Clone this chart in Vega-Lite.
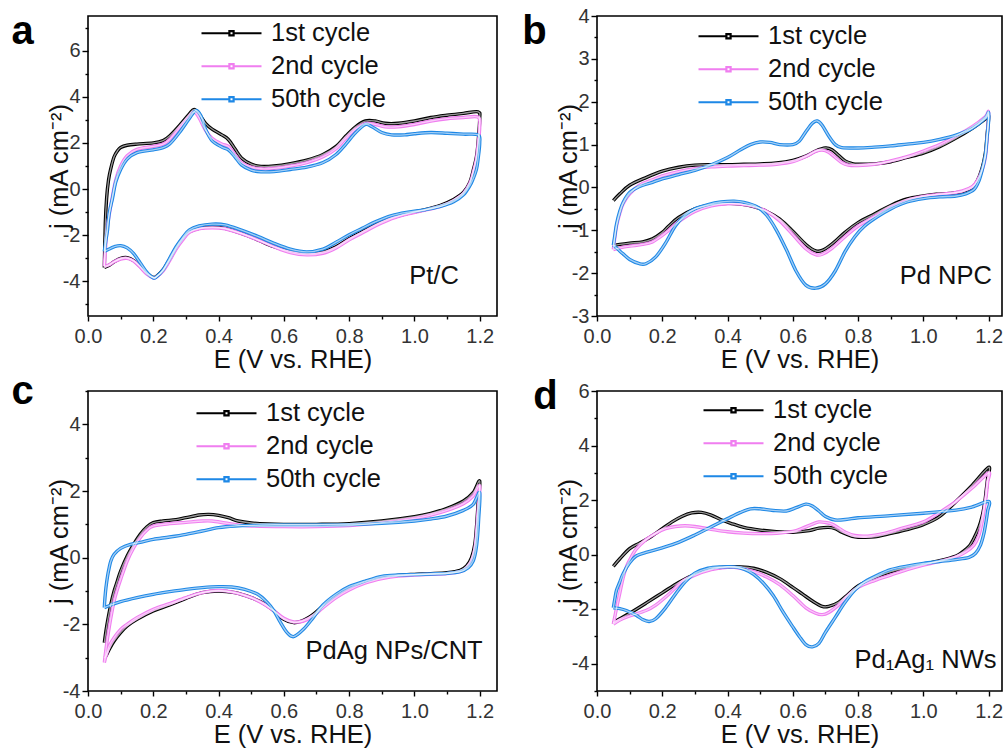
{
"$schema":"https://vega.github.io/schema/vega-lite/v6.json",
"padding":{"left":10,"top":5,"right":2,"bottom":2},
"config":{"font":"Liberation Sans","view":{"stroke":"black","strokeWidth":1.6},
 "axis":{"domain":false,"grid":false,"labelFlush":false,"tickColor":"black","tickWidth":1.4,"labelFont":"Liberation Sans","labelFontSize":20,"labelColor":"#333","titleFont":"Liberation Sans","titleFontSize":25.5,"titleFontWeight":"normal","titleColor":"#111"},
 "legend":{"labelFont":"Liberation Sans","labelFontSize":25.5,"labelColor":"#111","orient":"none","title":null,"symbolType":"M-1,0H-0.07M0.07,0H1M-0.07,-0.07H0.07V0.07H-0.07Z","symbolSize":3600,"symbolStrokeWidth":2.2,"symbolFillColor":"white","rowPadding":0,"clipHeight":32.5,"labelOffset":8}},
"datasets":{
"a":[
{"c":"1st cycle","E":0.05,"j":-3.4},{"c":"1st cycle","E":0.053,"j":-1.5},{"c":"1st cycle","E":0.057,"j":-0.4},{"c":"1st cycle","E":0.063,"j":0.4},{"c":"1st cycle","E":0.07,"j":0.9},{"c":"1st cycle","E":0.08,"j":1.4},{"c":"1st cycle","E":0.09,"j":1.65},{"c":"1st cycle","E":0.1,"j":1.8},{"c":"1st cycle","E":0.12,"j":1.9},{"c":"1st cycle","E":0.15,"j":1.95},{"c":"1st cycle","E":0.2,"j":2.0},{"c":"1st cycle","E":0.23,"j":2.1},{"c":"1st cycle","E":0.25,"j":2.3},{"c":"1st cycle","E":0.28,"j":2.75},{"c":"1st cycle","E":0.31,"j":3.25},{"c":"1st cycle","E":0.325,"j":3.45},{"c":"1st cycle","E":0.34,"j":3.25},{"c":"1st cycle","E":0.36,"j":2.85},{"c":"1st cycle","E":0.38,"j":2.6},{"c":"1st cycle","E":0.41,"j":2.35},{"c":"1st cycle","E":0.43,"j":2.15},{"c":"1st cycle","E":0.45,"j":1.75},{"c":"1st cycle","E":0.47,"j":1.35},{"c":"1st cycle","E":0.5,"j":1.08},{"c":"1st cycle","E":0.53,"j":0.98},{"c":"1st cycle","E":0.57,"j":1.0},{"c":"1st cycle","E":0.62,"j":1.1},{"c":"1st cycle","E":0.67,"j":1.25},{"c":"1st cycle","E":0.72,"j":1.5},{"c":"1st cycle","E":0.76,"j":1.85},{"c":"1st cycle","E":0.79,"j":2.3},{"c":"1st cycle","E":0.82,"j":2.7},{"c":"1st cycle","E":0.85,"j":2.95},{"c":"1st cycle","E":0.88,"j":2.95},{"c":"1st cycle","E":0.91,"j":2.85},{"c":"1st cycle","E":0.95,"j":2.85},{"c":"1st cycle","E":1.0,"j":2.95},{"c":"1st cycle","E":1.05,"j":3.1},{"c":"1st cycle","E":1.1,"j":3.2},{"c":"1st cycle","E":1.15,"j":3.28},{"c":"1st cycle","E":1.195,"j":3.35},{"c":"1st cycle","E":1.2,"j":3.05},
{"c":"1st cycle","E":1.195,"j":2.0},{"c":"1st cycle","E":1.19,"j":1.4},{"c":"1st cycle","E":1.18,"j":0.8},{"c":"1st cycle","E":1.17,"j":0.3},{"c":"1st cycle","E":1.15,"j":-0.15},{"c":"1st cycle","E":1.12,"j":-0.45},{"c":"1st cycle","E":1.08,"j":-0.7},{"c":"1st cycle","E":1.03,"j":-0.9},{"c":"1st cycle","E":0.98,"j":-1.05},{"c":"1st cycle","E":0.93,"j":-1.25},{"c":"1st cycle","E":0.88,"j":-1.55},{"c":"1st cycle","E":0.84,"j":-1.85},{"c":"1st cycle","E":0.8,"j":-2.15},{"c":"1st cycle","E":0.76,"j":-2.5},{"c":"1st cycle","E":0.72,"j":-2.72},{"c":"1st cycle","E":0.67,"j":-2.8},{"c":"1st cycle","E":0.62,"j":-2.7},{"c":"1st cycle","E":0.57,"j":-2.5},{"c":"1st cycle","E":0.52,"j":-2.2},{"c":"1st cycle","E":0.47,"j":-1.92},{"c":"1st cycle","E":0.42,"j":-1.7},{"c":"1st cycle","E":0.38,"j":-1.65},{"c":"1st cycle","E":0.34,"j":-1.7},{"c":"1st cycle","E":0.31,"j":-1.85},{"c":"1st cycle","E":0.29,"j":-2.15},{"c":"1st cycle","E":0.27,"j":-2.55},{"c":"1st cycle","E":0.25,"j":-3.05},{"c":"1st cycle","E":0.23,"j":-3.5},{"c":"1st cycle","E":0.21,"j":-3.78},{"c":"1st cycle","E":0.2,"j":-3.83},{"c":"1st cycle","E":0.18,"j":-3.65},{"c":"1st cycle","E":0.16,"j":-3.35},{"c":"1st cycle","E":0.14,"j":-3.1},{"c":"1st cycle","E":0.12,"j":-2.97},{"c":"1st cycle","E":0.1,"j":-3.0},{"c":"1st cycle","E":0.08,"j":-3.15},{"c":"1st cycle","E":0.065,"j":-3.3},{"c":"1st cycle","E":0.05,"j":-3.4},
{"c":"2nd cycle","E":0.05,"j":-3.35},{"c":"2nd cycle","E":0.055,"j":-2.3},{"c":"2nd cycle","E":0.06,"j":-1.55},{"c":"2nd cycle","E":0.067,"j":-0.95},{"c":"2nd cycle","E":0.075,"j":-0.3},{"c":"2nd cycle","E":0.085,"j":0.4},{"c":"2nd cycle","E":0.1,"j":1.0},{"c":"2nd cycle","E":0.12,"j":1.45},{"c":"2nd cycle","E":0.15,"j":1.72},{"c":"2nd cycle","E":0.2,"j":1.85},{"c":"2nd cycle","E":0.23,"j":1.95},{"c":"2nd cycle","E":0.25,"j":2.15},{"c":"2nd cycle","E":0.28,"j":2.65},{"c":"2nd cycle","E":0.31,"j":3.15},{"c":"2nd cycle","E":0.325,"j":3.35},{"c":"2nd cycle","E":0.34,"j":3.1},{"c":"2nd cycle","E":0.36,"j":2.55},{"c":"2nd cycle","E":0.38,"j":2.2},{"c":"2nd cycle","E":0.41,"j":1.95},{"c":"2nd cycle","E":0.43,"j":1.85},{"c":"2nd cycle","E":0.45,"j":1.5},{"c":"2nd cycle","E":0.47,"j":1.15},{"c":"2nd cycle","E":0.5,"j":0.95},{"c":"2nd cycle","E":0.53,"j":0.88},{"c":"2nd cycle","E":0.57,"j":0.9},{"c":"2nd cycle","E":0.62,"j":1.0},{"c":"2nd cycle","E":0.67,"j":1.15},{"c":"2nd cycle","E":0.72,"j":1.4},{"c":"2nd cycle","E":0.76,"j":1.75},{"c":"2nd cycle","E":0.79,"j":2.2},{"c":"2nd cycle","E":0.82,"j":2.6},{"c":"2nd cycle","E":0.85,"j":2.85},{"c":"2nd cycle","E":0.88,"j":2.8},{"c":"2nd cycle","E":0.91,"j":2.7},{"c":"2nd cycle","E":0.95,"j":2.7},{"c":"2nd cycle","E":1.0,"j":2.8},{"c":"2nd cycle","E":1.05,"j":2.95},{"c":"2nd cycle","E":1.1,"j":3.05},{"c":"2nd cycle","E":1.15,"j":3.1},{"c":"2nd cycle","E":1.195,"j":3.12},{"c":"2nd cycle","E":1.2,"j":2.7},
{"c":"2nd cycle","E":1.195,"j":1.9},{"c":"2nd cycle","E":1.19,"j":1.3},{"c":"2nd cycle","E":1.18,"j":0.7},{"c":"2nd cycle","E":1.17,"j":0.25},{"c":"2nd cycle","E":1.15,"j":-0.2},{"c":"2nd cycle","E":1.12,"j":-0.5},{"c":"2nd cycle","E":1.08,"j":-0.75},{"c":"2nd cycle","E":1.03,"j":-0.92},{"c":"2nd cycle","E":0.98,"j":-1.07},{"c":"2nd cycle","E":0.93,"j":-1.28},{"c":"2nd cycle","E":0.88,"j":-1.6},{"c":"2nd cycle","E":0.84,"j":-1.9},{"c":"2nd cycle","E":0.8,"j":-2.2},{"c":"2nd cycle","E":0.76,"j":-2.55},{"c":"2nd cycle","E":0.72,"j":-2.78},{"c":"2nd cycle","E":0.67,"j":-2.85},{"c":"2nd cycle","E":0.62,"j":-2.75},{"c":"2nd cycle","E":0.57,"j":-2.5},{"c":"2nd cycle","E":0.52,"j":-2.2},{"c":"2nd cycle","E":0.47,"j":-1.93},{"c":"2nd cycle","E":0.42,"j":-1.72},{"c":"2nd cycle","E":0.38,"j":-1.68},{"c":"2nd cycle","E":0.34,"j":-1.72},{"c":"2nd cycle","E":0.31,"j":-1.88},{"c":"2nd cycle","E":0.29,"j":-2.2},{"c":"2nd cycle","E":0.27,"j":-2.6},{"c":"2nd cycle","E":0.25,"j":-3.1},{"c":"2nd cycle","E":0.23,"j":-3.55},{"c":"2nd cycle","E":0.21,"j":-3.8},{"c":"2nd cycle","E":0.2,"j":-3.85},{"c":"2nd cycle","E":0.18,"j":-3.68},{"c":"2nd cycle","E":0.16,"j":-3.38},{"c":"2nd cycle","E":0.14,"j":-3.12},{"c":"2nd cycle","E":0.12,"j":-3.0},{"c":"2nd cycle","E":0.1,"j":-3.03},{"c":"2nd cycle","E":0.08,"j":-3.15},{"c":"2nd cycle","E":0.065,"j":-3.28},{"c":"2nd cycle","E":0.05,"j":-3.35},
{"c":"50th cycle","E":0.05,"j":-2.7},{"c":"50th cycle","E":0.055,"j":-2.2},{"c":"50th cycle","E":0.06,"j":-1.75},{"c":"50th cycle","E":0.065,"j":-1.05},{"c":"50th cycle","E":0.075,"j":-0.4},{"c":"50th cycle","E":0.085,"j":0.3},{"c":"50th cycle","E":0.1,"j":0.85},{"c":"50th cycle","E":0.12,"j":1.3},{"c":"50th cycle","E":0.15,"j":1.58},{"c":"50th cycle","E":0.2,"j":1.7},{"c":"50th cycle","E":0.23,"j":1.8},{"c":"50th cycle","E":0.25,"j":1.95},{"c":"50th cycle","E":0.28,"j":2.45},{"c":"50th cycle","E":0.31,"j":3.05},{"c":"50th cycle","E":0.33,"j":3.4},{"c":"50th cycle","E":0.345,"j":3.2},{"c":"50th cycle","E":0.36,"j":2.6},{"c":"50th cycle","E":0.38,"j":2.1},{"c":"50th cycle","E":0.41,"j":1.82},{"c":"50th cycle","E":0.43,"j":1.7},{"c":"50th cycle","E":0.45,"j":1.4},{"c":"50th cycle","E":0.47,"j":1.05},{"c":"50th cycle","E":0.5,"j":0.82},{"c":"50th cycle","E":0.53,"j":0.75},{"c":"50th cycle","E":0.57,"j":0.76},{"c":"50th cycle","E":0.62,"j":0.85},{"c":"50th cycle","E":0.67,"j":0.95},{"c":"50th cycle","E":0.72,"j":1.15},{"c":"50th cycle","E":0.76,"j":1.5},{"c":"50th cycle","E":0.79,"j":1.95},{"c":"50th cycle","E":0.82,"j":2.45},{"c":"50th cycle","E":0.85,"j":2.8},{"c":"50th cycle","E":0.87,"j":2.7},{"c":"50th cycle","E":0.9,"j":2.45},{"c":"50th cycle","E":0.93,"j":2.35},{"c":"50th cycle","E":0.97,"j":2.35},{"c":"50th cycle","E":1.0,"j":2.4},{"c":"50th cycle","E":1.05,"j":2.45},{"c":"50th cycle","E":1.1,"j":2.42},{"c":"50th cycle","E":1.15,"j":2.38},{"c":"50th cycle","E":1.195,"j":2.35},{"c":"50th cycle","E":1.2,"j":2.0},
{"c":"50th cycle","E":1.195,"j":1.3},{"c":"50th cycle","E":1.19,"j":0.85},{"c":"50th cycle","E":1.18,"j":0.45},{"c":"50th cycle","E":1.17,"j":0.15},{"c":"50th cycle","E":1.15,"j":-0.25},{"c":"50th cycle","E":1.12,"j":-0.55},{"c":"50th cycle","E":1.08,"j":-0.75},{"c":"50th cycle","E":1.03,"j":-0.9},{"c":"50th cycle","E":0.98,"j":-1.0},{"c":"50th cycle","E":0.93,"j":-1.15},{"c":"50th cycle","E":0.88,"j":-1.42},{"c":"50th cycle","E":0.84,"j":-1.7},{"c":"50th cycle","E":0.8,"j":-1.98},{"c":"50th cycle","E":0.76,"j":-2.3},{"c":"50th cycle","E":0.72,"j":-2.6},{"c":"50th cycle","E":0.67,"j":-2.72},{"c":"50th cycle","E":0.62,"j":-2.6},{"c":"50th cycle","E":0.57,"j":-2.35},{"c":"50th cycle","E":0.52,"j":-2.05},{"c":"50th cycle","E":0.47,"j":-1.78},{"c":"50th cycle","E":0.42,"j":-1.55},{"c":"50th cycle","E":0.38,"j":-1.52},{"c":"50th cycle","E":0.34,"j":-1.6},{"c":"50th cycle","E":0.31,"j":-1.78},{"c":"50th cycle","E":0.29,"j":-2.1},{"c":"50th cycle","E":0.27,"j":-2.5},{"c":"50th cycle","E":0.25,"j":-3.0},{"c":"50th cycle","E":0.23,"j":-3.5},{"c":"50th cycle","E":0.21,"j":-3.8},{"c":"50th cycle","E":0.2,"j":-3.85},{"c":"50th cycle","E":0.18,"j":-3.6},{"c":"50th cycle","E":0.16,"j":-3.2},{"c":"50th cycle","E":0.14,"j":-2.8},{"c":"50th cycle","E":0.12,"j":-2.55},{"c":"50th cycle","E":0.1,"j":-2.45},{"c":"50th cycle","E":0.08,"j":-2.5},{"c":"50th cycle","E":0.065,"j":-2.6},{"c":"50th cycle","E":0.05,"j":-2.7}
],
"b":[
{"c":"1st cycle","E":0.05,"j":-0.31},{"c":"1st cycle","E":0.07,"j":-0.15},{"c":"1st cycle","E":0.1,"j":0.05},{"c":"1st cycle","E":0.15,"j":0.23},{"c":"1st cycle","E":0.2,"j":0.38},{"c":"1st cycle","E":0.25,"j":0.47},{"c":"1st cycle","E":0.3,"j":0.52},{"c":"1st cycle","E":0.35,"j":0.53},{"c":"1st cycle","E":0.4,"j":0.53},{"c":"1st cycle","E":0.45,"j":0.54},{"c":"1st cycle","E":0.5,"j":0.55},{"c":"1st cycle","E":0.55,"j":0.57},{"c":"1st cycle","E":0.6,"j":0.63},{"c":"1st cycle","E":0.64,"j":0.73},{"c":"1st cycle","E":0.67,"j":0.85},{"c":"1st cycle","E":0.7,"j":0.92},{"c":"1st cycle","E":0.72,"j":0.88},{"c":"1st cycle","E":0.74,"j":0.75},{"c":"1st cycle","E":0.76,"j":0.62},{"c":"1st cycle","E":0.78,"j":0.56},{"c":"1st cycle","E":0.8,"j":0.54},{"c":"1st cycle","E":0.85,"j":0.55},{"c":"1st cycle","E":0.9,"j":0.6},{"c":"1st cycle","E":0.95,"j":0.7},{"c":"1st cycle","E":1.0,"j":0.8},{"c":"1st cycle","E":1.05,"j":0.95},{"c":"1st cycle","E":1.1,"j":1.15},{"c":"1st cycle","E":1.15,"j":1.38},{"c":"1st cycle","E":1.19,"j":1.6},{"c":"1st cycle","E":1.2,"j":1.67},
{"c":"1st cycle","E":1.195,"j":1.2},{"c":"1st cycle","E":1.19,"j":0.8},{"c":"1st cycle","E":1.18,"j":0.45},{"c":"1st cycle","E":1.165,"j":0.15},{"c":"1st cycle","E":1.15,"j":0.0},{"c":"1st cycle","E":1.12,"j":-0.1},{"c":"1st cycle","E":1.08,"j":-0.14},{"c":"1st cycle","E":1.04,"j":-0.16},{"c":"1st cycle","E":1.0,"j":-0.2},{"c":"1st cycle","E":0.95,"j":-0.27},{"c":"1st cycle","E":0.9,"j":-0.42},{"c":"1st cycle","E":0.85,"j":-0.62},{"c":"1st cycle","E":0.8,"j":-0.82},{"c":"1st cycle","E":0.76,"j":-1.05},{"c":"1st cycle","E":0.72,"j":-1.32},{"c":"1st cycle","E":0.69,"j":-1.47},{"c":"1st cycle","E":0.67,"j":-1.48},{"c":"1st cycle","E":0.64,"j":-1.33},{"c":"1st cycle","E":0.6,"j":-1.02},{"c":"1st cycle","E":0.56,"j":-0.74},{"c":"1st cycle","E":0.52,"j":-0.56},{"c":"1st cycle","E":0.48,"j":-0.45},{"c":"1st cycle","E":0.44,"j":-0.39},{"c":"1st cycle","E":0.4,"j":-0.37},{"c":"1st cycle","E":0.35,"j":-0.4},{"c":"1st cycle","E":0.3,"j":-0.5},{"c":"1st cycle","E":0.25,"j":-0.7},{"c":"1st cycle","E":0.22,"j":-0.9},{"c":"1st cycle","E":0.2,"j":-1.05},{"c":"1st cycle","E":0.17,"j":-1.2},{"c":"1st cycle","E":0.14,"j":-1.27},{"c":"1st cycle","E":0.1,"j":-1.3},{"c":"1st cycle","E":0.07,"j":-1.33},{"c":"1st cycle","E":0.05,"j":-1.36},
{"c":"2nd cycle","E":0.05,"j":-1.45},{"c":"2nd cycle","E":0.055,"j":-1.15},{"c":"2nd cycle","E":0.06,"j":-0.9},{"c":"2nd cycle","E":0.07,"j":-0.6},{"c":"2nd cycle","E":0.08,"j":-0.38},{"c":"2nd cycle","E":0.1,"j":-0.15},{"c":"2nd cycle","E":0.13,"j":0.05},{"c":"2nd cycle","E":0.17,"j":0.18},{"c":"2nd cycle","E":0.2,"j":0.27},{"c":"2nd cycle","E":0.25,"j":0.37},{"c":"2nd cycle","E":0.3,"j":0.44},{"c":"2nd cycle","E":0.35,"j":0.48},{"c":"2nd cycle","E":0.4,"j":0.5},{"c":"2nd cycle","E":0.45,"j":0.51},{"c":"2nd cycle","E":0.5,"j":0.52},{"c":"2nd cycle","E":0.55,"j":0.54},{"c":"2nd cycle","E":0.6,"j":0.6},{"c":"2nd cycle","E":0.64,"j":0.72},{"c":"2nd cycle","E":0.67,"j":0.84},{"c":"2nd cycle","E":0.69,"j":0.87},{"c":"2nd cycle","E":0.71,"j":0.82},{"c":"2nd cycle","E":0.73,"j":0.7},{"c":"2nd cycle","E":0.75,"j":0.58},{"c":"2nd cycle","E":0.77,"j":0.52},{"c":"2nd cycle","E":0.8,"j":0.51},{"c":"2nd cycle","E":0.85,"j":0.54},{"c":"2nd cycle","E":0.9,"j":0.62},{"c":"2nd cycle","E":0.95,"j":0.72},{"c":"2nd cycle","E":1.0,"j":0.85},{"c":"2nd cycle","E":1.05,"j":1.0},{"c":"2nd cycle","E":1.1,"j":1.2},{"c":"2nd cycle","E":1.15,"j":1.42},{"c":"2nd cycle","E":1.19,"j":1.65},{"c":"2nd cycle","E":1.2,"j":1.75},
{"c":"2nd cycle","E":1.195,"j":1.1},{"c":"2nd cycle","E":1.19,"j":0.7},{"c":"2nd cycle","E":1.18,"j":0.4},{"c":"2nd cycle","E":1.165,"j":0.15},{"c":"2nd cycle","E":1.15,"j":0.02},{"c":"2nd cycle","E":1.12,"j":-0.08},{"c":"2nd cycle","E":1.08,"j":-0.14},{"c":"2nd cycle","E":1.04,"j":-0.17},{"c":"2nd cycle","E":1.0,"j":-0.21},{"c":"2nd cycle","E":0.95,"j":-0.3},{"c":"2nd cycle","E":0.9,"j":-0.46},{"c":"2nd cycle","E":0.85,"j":-0.68},{"c":"2nd cycle","E":0.8,"j":-0.9},{"c":"2nd cycle","E":0.76,"j":-1.15},{"c":"2nd cycle","E":0.72,"j":-1.42},{"c":"2nd cycle","E":0.69,"j":-1.56},{"c":"2nd cycle","E":0.67,"j":-1.57},{"c":"2nd cycle","E":0.64,"j":-1.43},{"c":"2nd cycle","E":0.6,"j":-1.1},{"c":"2nd cycle","E":0.56,"j":-0.78},{"c":"2nd cycle","E":0.52,"j":-0.56},{"c":"2nd cycle","E":0.48,"j":-0.44},{"c":"2nd cycle","E":0.44,"j":-0.39},{"c":"2nd cycle","E":0.4,"j":-0.38},{"c":"2nd cycle","E":0.35,"j":-0.43},{"c":"2nd cycle","E":0.3,"j":-0.56},{"c":"2nd cycle","E":0.25,"j":-0.8},{"c":"2nd cycle","E":0.22,"j":-1.0},{"c":"2nd cycle","E":0.2,"j":-1.12},{"c":"2nd cycle","E":0.17,"j":-1.27},{"c":"2nd cycle","E":0.14,"j":-1.33},{"c":"2nd cycle","E":0.1,"j":-1.37},{"c":"2nd cycle","E":0.07,"j":-1.41},{"c":"2nd cycle","E":0.05,"j":-1.45},
{"c":"50th cycle","E":0.05,"j":-1.35},{"c":"50th cycle","E":0.055,"j":-1.1},{"c":"50th cycle","E":0.06,"j":-0.85},{"c":"50th cycle","E":0.07,"j":-0.55},{"c":"50th cycle","E":0.08,"j":-0.35},{"c":"50th cycle","E":0.1,"j":-0.12},{"c":"50th cycle","E":0.13,"j":0.02},{"c":"50th cycle","E":0.17,"j":0.12},{"c":"50th cycle","E":0.2,"j":0.2},{"c":"50th cycle","E":0.25,"j":0.3},{"c":"50th cycle","E":0.3,"j":0.4},{"c":"50th cycle","E":0.35,"j":0.53},{"c":"50th cycle","E":0.4,"j":0.7},{"c":"50th cycle","E":0.44,"j":0.88},{"c":"50th cycle","E":0.47,"j":1.0},{"c":"50th cycle","E":0.5,"j":1.06},{"c":"50th cycle","E":0.53,"j":1.05},{"c":"50th cycle","E":0.56,"j":1.0},{"c":"50th cycle","E":0.6,"j":1.0},{"c":"50th cycle","E":0.62,"j":1.08},{"c":"50th cycle","E":0.64,"j":1.3},{"c":"50th cycle","E":0.66,"j":1.5},{"c":"50th cycle","E":0.675,"j":1.55},{"c":"50th cycle","E":0.69,"j":1.45},{"c":"50th cycle","E":0.71,"j":1.2},{"c":"50th cycle","E":0.73,"j":1.0},{"c":"50th cycle","E":0.75,"j":0.93},{"c":"50th cycle","E":0.8,"j":0.92},{"c":"50th cycle","E":0.85,"j":0.94},{"c":"50th cycle","E":0.9,"j":0.97},{"c":"50th cycle","E":0.95,"j":1.01},{"c":"50th cycle","E":1.0,"j":1.05},{"c":"50th cycle","E":1.05,"j":1.12},{"c":"50th cycle","E":1.1,"j":1.22},{"c":"50th cycle","E":1.15,"j":1.38},{"c":"50th cycle","E":1.19,"j":1.62},{"c":"50th cycle","E":1.2,"j":1.75},
{"c":"50th cycle","E":1.2,"j":1.55},{"c":"50th cycle","E":1.195,"j":1.15},{"c":"50th cycle","E":1.19,"j":0.75},{"c":"50th cycle","E":1.18,"j":0.4},{"c":"50th cycle","E":1.17,"j":0.15},{"c":"50th cycle","E":1.155,"j":-0.05},{"c":"50th cycle","E":1.13,"j":-0.15},{"c":"50th cycle","E":1.1,"j":-0.2},{"c":"50th cycle","E":1.05,"j":-0.22},{"c":"50th cycle","E":1.0,"j":-0.26},{"c":"50th cycle","E":0.95,"j":-0.34},{"c":"50th cycle","E":0.9,"j":-0.5},{"c":"50th cycle","E":0.86,"j":-0.68},{"c":"50th cycle","E":0.82,"j":-0.9},{"c":"50th cycle","E":0.79,"j":-1.15},{"c":"50th cycle","E":0.76,"j":-1.5},{"c":"50th cycle","E":0.73,"j":-1.95},{"c":"50th cycle","E":0.7,"j":-2.25},{"c":"50th cycle","E":0.67,"j":-2.35},{"c":"50th cycle","E":0.64,"j":-2.28},{"c":"50th cycle","E":0.61,"j":-1.95},{"c":"50th cycle","E":0.58,"j":-1.45},{"c":"50th cycle","E":0.55,"j":-1.0},{"c":"50th cycle","E":0.52,"j":-0.65},{"c":"50th cycle","E":0.49,"j":-0.45},{"c":"50th cycle","E":0.45,"j":-0.35},{"c":"50th cycle","E":0.42,"j":-0.32},{"c":"50th cycle","E":0.38,"j":-0.34},{"c":"50th cycle","E":0.34,"j":-0.4},{"c":"50th cycle","E":0.3,"j":-0.5},{"c":"50th cycle","E":0.27,"j":-0.65},{"c":"50th cycle","E":0.24,"j":-0.9},{"c":"50th cycle","E":0.21,"j":-1.3},{"c":"50th cycle","E":0.18,"j":-1.62},{"c":"50th cycle","E":0.15,"j":-1.78},{"c":"50th cycle","E":0.13,"j":-1.78},{"c":"50th cycle","E":0.1,"j":-1.68},{"c":"50th cycle","E":0.08,"j":-1.55},{"c":"50th cycle","E":0.065,"j":-1.45},{"c":"50th cycle","E":0.05,"j":-1.35}
],
"c":[
{"c":"1st cycle","E":0.05,"j":-2.55},{"c":"1st cycle","E":0.055,"j":-2.2},{"c":"1st cycle","E":0.06,"j":-1.9},{"c":"1st cycle","E":0.07,"j":-1.4},{"c":"1st cycle","E":0.08,"j":-1.0},{"c":"1st cycle","E":0.09,"j":-0.7},{"c":"1st cycle","E":0.1,"j":-0.4},{"c":"1st cycle","E":0.12,"j":0.05},{"c":"1st cycle","E":0.14,"j":0.4},{"c":"1st cycle","E":0.16,"j":0.7},{"c":"1st cycle","E":0.18,"j":0.92},{"c":"1st cycle","E":0.2,"j":1.05},{"c":"1st cycle","E":0.23,"j":1.1},{"c":"1st cycle","E":0.27,"j":1.14},{"c":"1st cycle","E":0.3,"j":1.2},{"c":"1st cycle","E":0.34,"j":1.28},{"c":"1st cycle","E":0.37,"j":1.3},{"c":"1st cycle","E":0.4,"j":1.27},{"c":"1st cycle","E":0.43,"j":1.2},{"c":"1st cycle","E":0.46,"j":1.1},{"c":"1st cycle","E":0.5,"j":1.04},{"c":"1st cycle","E":0.55,"j":1.01},{"c":"1st cycle","E":0.6,"j":1.0},{"c":"1st cycle","E":0.7,"j":1.0},{"c":"1st cycle","E":0.8,"j":1.02},{"c":"1st cycle","E":0.9,"j":1.1},{"c":"1st cycle","E":1.0,"j":1.23},{"c":"1st cycle","E":1.05,"j":1.33},{"c":"1st cycle","E":1.1,"j":1.48},{"c":"1st cycle","E":1.15,"j":1.7},{"c":"1st cycle","E":1.18,"j":1.95},{"c":"1st cycle","E":1.2,"j":2.3},
{"c":"1st cycle","E":1.195,"j":1.6},{"c":"1st cycle","E":1.19,"j":0.9},{"c":"1st cycle","E":1.185,"j":0.4},{"c":"1st cycle","E":1.175,"j":0.0},{"c":"1st cycle","E":1.16,"j":-0.25},{"c":"1st cycle","E":1.14,"j":-0.38},{"c":"1st cycle","E":1.1,"j":-0.45},{"c":"1st cycle","E":1.05,"j":-0.48},{"c":"1st cycle","E":1.0,"j":-0.5},{"c":"1st cycle","E":0.95,"j":-0.53},{"c":"1st cycle","E":0.9,"j":-0.6},{"c":"1st cycle","E":0.85,"j":-0.72},{"c":"1st cycle","E":0.8,"j":-0.92},{"c":"1st cycle","E":0.76,"j":-1.15},{"c":"1st cycle","E":0.72,"j":-1.45},{"c":"1st cycle","E":0.69,"j":-1.7},{"c":"1st cycle","E":0.66,"j":-1.88},{"c":"1st cycle","E":0.63,"j":-1.95},{"c":"1st cycle","E":0.6,"j":-1.85},{"c":"1st cycle","E":0.57,"j":-1.6},{"c":"1st cycle","E":0.54,"j":-1.38},{"c":"1st cycle","E":0.5,"j":-1.2},{"c":"1st cycle","E":0.45,"j":-1.05},{"c":"1st cycle","E":0.4,"j":-1.0},{"c":"1st cycle","E":0.35,"j":-1.05},{"c":"1st cycle","E":0.3,"j":-1.22},{"c":"1st cycle","E":0.25,"j":-1.42},{"c":"1st cycle","E":0.2,"j":-1.6},{"c":"1st cycle","E":0.15,"j":-1.85},{"c":"1st cycle","E":0.12,"j":-2.05},{"c":"1st cycle","E":0.1,"j":-2.25},{"c":"1st cycle","E":0.08,"j":-2.5},{"c":"1st cycle","E":0.065,"j":-2.75},{"c":"1st cycle","E":0.055,"j":-2.95},{"c":"1st cycle","E":0.05,"j":-3.0},
{"c":"2nd cycle","E":0.05,"j":-3.15},{"c":"2nd cycle","E":0.055,"j":-2.75},{"c":"2nd cycle","E":0.06,"j":-2.4},{"c":"2nd cycle","E":0.07,"j":-1.8},{"c":"2nd cycle","E":0.08,"j":-1.3},{"c":"2nd cycle","E":0.09,"j":-0.95},{"c":"2nd cycle","E":0.1,"j":-0.65},{"c":"2nd cycle","E":0.12,"j":-0.1},{"c":"2nd cycle","E":0.14,"j":0.3},{"c":"2nd cycle","E":0.16,"j":0.6},{"c":"2nd cycle","E":0.18,"j":0.82},{"c":"2nd cycle","E":0.2,"j":0.95},{"c":"2nd cycle","E":0.25,"j":1.02},{"c":"2nd cycle","E":0.3,"j":1.06},{"c":"2nd cycle","E":0.35,"j":1.1},{"c":"2nd cycle","E":0.38,"j":1.1},{"c":"2nd cycle","E":0.42,"j":1.04},{"c":"2nd cycle","E":0.46,"j":0.98},{"c":"2nd cycle","E":0.5,"j":0.95},{"c":"2nd cycle","E":0.6,"j":0.93},{"c":"2nd cycle","E":0.7,"j":0.93},{"c":"2nd cycle","E":0.8,"j":0.96},{"c":"2nd cycle","E":0.9,"j":1.05},{"c":"2nd cycle","E":1.0,"j":1.18},{"c":"2nd cycle","E":1.05,"j":1.28},{"c":"2nd cycle","E":1.1,"j":1.42},{"c":"2nd cycle","E":1.15,"j":1.62},{"c":"2nd cycle","E":1.18,"j":1.85},{"c":"2nd cycle","E":1.2,"j":2.15},
{"c":"2nd cycle","E":1.195,"j":1.4},{"c":"2nd cycle","E":1.19,"j":0.7},{"c":"2nd cycle","E":1.185,"j":0.25},{"c":"2nd cycle","E":1.175,"j":-0.1},{"c":"2nd cycle","E":1.16,"j":-0.3},{"c":"2nd cycle","E":1.14,"j":-0.42},{"c":"2nd cycle","E":1.1,"j":-0.48},{"c":"2nd cycle","E":1.05,"j":-0.5},{"c":"2nd cycle","E":1.0,"j":-0.52},{"c":"2nd cycle","E":0.95,"j":-0.55},{"c":"2nd cycle","E":0.9,"j":-0.63},{"c":"2nd cycle","E":0.85,"j":-0.76},{"c":"2nd cycle","E":0.8,"j":-0.97},{"c":"2nd cycle","E":0.76,"j":-1.2},{"c":"2nd cycle","E":0.72,"j":-1.5},{"c":"2nd cycle","E":0.69,"j":-1.75},{"c":"2nd cycle","E":0.66,"j":-1.9},{"c":"2nd cycle","E":0.63,"j":-1.93},{"c":"2nd cycle","E":0.6,"j":-1.82},{"c":"2nd cycle","E":0.57,"j":-1.6},{"c":"2nd cycle","E":0.54,"j":-1.4},{"c":"2nd cycle","E":0.5,"j":-1.2},{"c":"2nd cycle","E":0.45,"j":-1.05},{"c":"2nd cycle","E":0.4,"j":-0.98},{"c":"2nd cycle","E":0.35,"j":-1.05},{"c":"2nd cycle","E":0.3,"j":-1.2},{"c":"2nd cycle","E":0.25,"j":-1.38},{"c":"2nd cycle","E":0.2,"j":-1.55},{"c":"2nd cycle","E":0.15,"j":-1.8},{"c":"2nd cycle","E":0.12,"j":-2.0},{"c":"2nd cycle","E":0.1,"j":-2.15},{"c":"2nd cycle","E":0.08,"j":-2.4},{"c":"2nd cycle","E":0.065,"j":-2.65},{"c":"2nd cycle","E":0.055,"j":-2.95},{"c":"2nd cycle","E":0.05,"j":-3.15},
{"c":"50th cycle","E":0.05,"j":-1.5},{"c":"50th cycle","E":0.052,"j":-1.2},{"c":"50th cycle","E":0.055,"j":-0.9},{"c":"50th cycle","E":0.06,"j":-0.55},{"c":"50th cycle","E":0.065,"j":-0.3},{"c":"50th cycle","E":0.07,"j":-0.1},{"c":"50th cycle","E":0.08,"j":0.1},{"c":"50th cycle","E":0.1,"j":0.28},{"c":"50th cycle","E":0.13,"j":0.4},{"c":"50th cycle","E":0.17,"j":0.48},{"c":"50th cycle","E":0.2,"j":0.55},{"c":"50th cycle","E":0.25,"j":0.62},{"c":"50th cycle","E":0.3,"j":0.7},{"c":"50th cycle","E":0.35,"j":0.8},{"c":"50th cycle","E":0.4,"j":0.9},{"c":"50th cycle","E":0.45,"j":0.95},{"c":"50th cycle","E":0.5,"j":0.97},{"c":"50th cycle","E":0.6,"j":0.98},{"c":"50th cycle","E":0.7,"j":0.98},{"c":"50th cycle","E":0.8,"j":0.99},{"c":"50th cycle","E":0.9,"j":1.03},{"c":"50th cycle","E":1.0,"j":1.1},{"c":"50th cycle","E":1.05,"j":1.16},{"c":"50th cycle","E":1.1,"j":1.25},{"c":"50th cycle","E":1.15,"j":1.42},{"c":"50th cycle","E":1.18,"j":1.6},{"c":"50th cycle","E":1.2,"j":1.95},
{"c":"50th cycle","E":1.197,"j":1.2},{"c":"50th cycle","E":1.193,"j":0.6},{"c":"50th cycle","E":1.188,"j":0.2},{"c":"50th cycle","E":1.18,"j":-0.1},{"c":"50th cycle","E":1.165,"j":-0.3},{"c":"50th cycle","E":1.14,"j":-0.42},{"c":"50th cycle","E":1.1,"j":-0.47},{"c":"50th cycle","E":1.05,"j":-0.49},{"c":"50th cycle","E":1.0,"j":-0.51},{"c":"50th cycle","E":0.95,"j":-0.52},{"c":"50th cycle","E":0.9,"j":-0.56},{"c":"50th cycle","E":0.85,"j":-0.7},{"c":"50th cycle","E":0.8,"j":-0.87},{"c":"50th cycle","E":0.76,"j":-1.1},{"c":"50th cycle","E":0.72,"j":-1.42},{"c":"50th cycle","E":0.69,"j":-1.8},{"c":"50th cycle","E":0.66,"j":-2.15},{"c":"50th cycle","E":0.63,"j":-2.37},{"c":"50th cycle","E":0.61,"j":-2.25},{"c":"50th cycle","E":0.59,"j":-1.95},{"c":"50th cycle","E":0.57,"j":-1.6},{"c":"50th cycle","E":0.55,"j":-1.35},{"c":"50th cycle","E":0.52,"j":-1.1},{"c":"50th cycle","E":0.48,"j":-0.95},{"c":"50th cycle","E":0.44,"j":-0.88},{"c":"50th cycle","E":0.4,"j":-0.87},{"c":"50th cycle","E":0.35,"j":-0.9},{"c":"50th cycle","E":0.3,"j":-0.95},{"c":"50th cycle","E":0.25,"j":-1.02},{"c":"50th cycle","E":0.2,"j":-1.1},{"c":"50th cycle","E":0.15,"j":-1.2},{"c":"50th cycle","E":0.1,"j":-1.32},{"c":"50th cycle","E":0.07,"j":-1.42},{"c":"50th cycle","E":0.05,"j":-1.5}
],
"d":[
{"c":"1st cycle","E":0.05,"j":-0.43},{"c":"1st cycle","E":0.07,"j":-0.15},{"c":"1st cycle","E":0.1,"j":0.22},{"c":"1st cycle","E":0.13,"j":0.42},{"c":"1st cycle","E":0.16,"j":0.62},{"c":"1st cycle","E":0.2,"j":0.95},{"c":"1st cycle","E":0.23,"j":1.2},{"c":"1st cycle","E":0.26,"j":1.4},{"c":"1st cycle","E":0.29,"j":1.53},{"c":"1st cycle","E":0.32,"j":1.55},{"c":"1st cycle","E":0.35,"j":1.45},{"c":"1st cycle","E":0.38,"j":1.28},{"c":"1st cycle","E":0.41,"j":1.15},{"c":"1st cycle","E":0.45,"j":1.0},{"c":"1st cycle","E":0.5,"j":0.9},{"c":"1st cycle","E":0.55,"j":0.84},{"c":"1st cycle","E":0.6,"j":0.82},{"c":"1st cycle","E":0.65,"j":0.88},{"c":"1st cycle","E":0.68,"j":0.97},{"c":"1st cycle","E":0.71,"j":1.0},{"c":"1st cycle","E":0.73,"j":0.95},{"c":"1st cycle","E":0.75,"j":0.82},{"c":"1st cycle","E":0.78,"j":0.68},{"c":"1st cycle","E":0.8,"j":0.64},{"c":"1st cycle","E":0.85,"j":0.65},{"c":"1st cycle","E":0.9,"j":0.78},{"c":"1st cycle","E":0.95,"j":0.92},{"c":"1st cycle","E":1.0,"j":1.1},{"c":"1st cycle","E":1.05,"j":1.4},{"c":"1st cycle","E":1.1,"j":1.95},{"c":"1st cycle","E":1.15,"j":2.55},{"c":"1st cycle","E":1.2,"j":3.2},
{"c":"1st cycle","E":1.197,"j":2.8},{"c":"1st cycle","E":1.193,"j":2.4},{"c":"1st cycle","E":1.188,"j":1.9},{"c":"1st cycle","E":1.18,"j":1.4},{"c":"1st cycle","E":1.17,"j":1.0},{"c":"1st cycle","E":1.155,"j":0.6},{"c":"1st cycle","E":1.14,"j":0.3},{"c":"1st cycle","E":1.12,"j":0.1},{"c":"1st cycle","E":1.1,"j":-0.05},{"c":"1st cycle","E":1.05,"j":-0.22},{"c":"1st cycle","E":1.0,"j":-0.35},{"c":"1st cycle","E":0.95,"j":-0.48},{"c":"1st cycle","E":0.9,"j":-0.62},{"c":"1st cycle","E":0.85,"j":-0.85},{"c":"1st cycle","E":0.8,"j":-1.15},{"c":"1st cycle","E":0.77,"j":-1.45},{"c":"1st cycle","E":0.74,"j":-1.75},{"c":"1st cycle","E":0.71,"j":-1.9},{"c":"1st cycle","E":0.69,"j":-1.9},{"c":"1st cycle","E":0.66,"j":-1.7},{"c":"1st cycle","E":0.63,"j":-1.45},{"c":"1st cycle","E":0.6,"j":-1.2},{"c":"1st cycle","E":0.56,"j":-0.88},{"c":"1st cycle","E":0.52,"j":-0.65},{"c":"1st cycle","E":0.48,"j":-0.5},{"c":"1st cycle","E":0.44,"j":-0.45},{"c":"1st cycle","E":0.4,"j":-0.45},{"c":"1st cycle","E":0.35,"j":-0.52},{"c":"1st cycle","E":0.3,"j":-0.72},{"c":"1st cycle","E":0.25,"j":-1.02},{"c":"1st cycle","E":0.2,"j":-1.4},{"c":"1st cycle","E":0.15,"j":-1.78},{"c":"1st cycle","E":0.1,"j":-2.15},{"c":"1st cycle","E":0.07,"j":-2.35},{"c":"1st cycle","E":0.05,"j":-2.5},
{"c":"2nd cycle","E":0.05,"j":-2.55},{"c":"2nd cycle","E":0.055,"j":-2.25},{"c":"2nd cycle","E":0.06,"j":-1.95},{"c":"2nd cycle","E":0.07,"j":-1.4},{"c":"2nd cycle","E":0.08,"j":-0.85},{"c":"2nd cycle","E":0.09,"j":-0.45},{"c":"2nd cycle","E":0.1,"j":-0.2},{"c":"2nd cycle","E":0.12,"j":0.2},{"c":"2nd cycle","E":0.15,"j":0.55},{"c":"2nd cycle","E":0.18,"j":0.78},{"c":"2nd cycle","E":0.21,"j":0.95},{"c":"2nd cycle","E":0.24,"j":1.03},{"c":"2nd cycle","E":0.27,"j":1.06},{"c":"2nd cycle","E":0.3,"j":1.03},{"c":"2nd cycle","E":0.35,"j":0.93},{"c":"2nd cycle","E":0.4,"j":0.84},{"c":"2nd cycle","E":0.45,"j":0.79},{"c":"2nd cycle","E":0.5,"j":0.77},{"c":"2nd cycle","E":0.55,"j":0.78},{"c":"2nd cycle","E":0.6,"j":0.85},{"c":"2nd cycle","E":0.63,"j":0.97},{"c":"2nd cycle","E":0.66,"j":1.12},{"c":"2nd cycle","E":0.68,"j":1.2},{"c":"2nd cycle","E":0.7,"j":1.18},{"c":"2nd cycle","E":0.72,"j":1.12},{"c":"2nd cycle","E":0.74,"j":0.98},{"c":"2nd cycle","E":0.76,"j":0.83},{"c":"2nd cycle","E":0.79,"j":0.7},{"c":"2nd cycle","E":0.83,"j":0.68},{"c":"2nd cycle","E":0.88,"j":0.78},{"c":"2nd cycle","E":0.93,"j":0.95},{"c":"2nd cycle","E":1.0,"j":1.2},{"c":"2nd cycle","E":1.05,"j":1.55},{"c":"2nd cycle","E":1.1,"j":1.95},{"c":"2nd cycle","E":1.15,"j":2.45},{"c":"2nd cycle","E":1.2,"j":3.0},
{"c":"2nd cycle","E":1.197,"j":2.65},{"c":"2nd cycle","E":1.193,"j":2.2},{"c":"2nd cycle","E":1.187,"j":1.7},{"c":"2nd cycle","E":1.18,"j":1.2},{"c":"2nd cycle","E":1.17,"j":0.7},{"c":"2nd cycle","E":1.155,"j":0.35},{"c":"2nd cycle","E":1.13,"j":0.1},{"c":"2nd cycle","E":1.1,"j":-0.08},{"c":"2nd cycle","E":1.05,"j":-0.25},{"c":"2nd cycle","E":1.0,"j":-0.38},{"c":"2nd cycle","E":0.95,"j":-0.55},{"c":"2nd cycle","E":0.9,"j":-0.75},{"c":"2nd cycle","E":0.85,"j":-0.95},{"c":"2nd cycle","E":0.8,"j":-1.2},{"c":"2nd cycle","E":0.77,"j":-1.5},{"c":"2nd cycle","E":0.74,"j":-1.85},{"c":"2nd cycle","E":0.71,"j":-2.12},{"c":"2nd cycle","E":0.69,"j":-2.2},{"c":"2nd cycle","E":0.67,"j":-2.15},{"c":"2nd cycle","E":0.64,"j":-1.95},{"c":"2nd cycle","E":0.6,"j":-1.5},{"c":"2nd cycle","E":0.56,"j":-1.1},{"c":"2nd cycle","E":0.52,"j":-0.82},{"c":"2nd cycle","E":0.48,"j":-0.62},{"c":"2nd cycle","E":0.44,"j":-0.5},{"c":"2nd cycle","E":0.4,"j":-0.46},{"c":"2nd cycle","E":0.35,"j":-0.55},{"c":"2nd cycle","E":0.3,"j":-0.75},{"c":"2nd cycle","E":0.26,"j":-1.0},{"c":"2nd cycle","E":0.22,"j":-1.45},{"c":"2nd cycle","E":0.18,"j":-1.85},{"c":"2nd cycle","E":0.15,"j":-2.05},{"c":"2nd cycle","E":0.1,"j":-2.25},{"c":"2nd cycle","E":0.07,"j":-2.4},{"c":"2nd cycle","E":0.05,"j":-2.55},
{"c":"50th cycle","E":0.05,"j":-1.95},{"c":"50th cycle","E":0.055,"j":-1.6},{"c":"50th cycle","E":0.06,"j":-1.3},{"c":"50th cycle","E":0.07,"j":-1.0},{"c":"50th cycle","E":0.08,"j":-0.7},{"c":"50th cycle","E":0.1,"j":-0.3},{"c":"50th cycle","E":0.12,"j":-0.05},{"c":"50th cycle","E":0.15,"j":0.08},{"c":"50th cycle","E":0.2,"j":0.25},{"c":"50th cycle","E":0.25,"j":0.45},{"c":"50th cycle","E":0.3,"j":0.72},{"c":"50th cycle","E":0.35,"j":1.02},{"c":"50th cycle","E":0.4,"j":1.32},{"c":"50th cycle","E":0.44,"j":1.55},{"c":"50th cycle","E":0.47,"j":1.68},{"c":"50th cycle","E":0.5,"j":1.68},{"c":"50th cycle","E":0.54,"j":1.62},{"c":"50th cycle","E":0.58,"j":1.6},{"c":"50th cycle","E":0.61,"j":1.72},{"c":"50th cycle","E":0.64,"j":1.85},{"c":"50th cycle","E":0.66,"j":1.78},{"c":"50th cycle","E":0.68,"j":1.6},{"c":"50th cycle","E":0.7,"j":1.4},{"c":"50th cycle","E":0.73,"j":1.27},{"c":"50th cycle","E":0.77,"j":1.3},{"c":"50th cycle","E":0.8,"j":1.35},{"c":"50th cycle","E":0.9,"j":1.43},{"c":"50th cycle","E":1.0,"j":1.52},{"c":"50th cycle","E":1.1,"j":1.63},{"c":"50th cycle","E":1.15,"j":1.75},{"c":"50th cycle","E":1.2,"j":1.95},
{"c":"50th cycle","E":1.197,"j":1.6},{"c":"50th cycle","E":1.192,"j":1.2},{"c":"50th cycle","E":1.185,"j":0.75},{"c":"50th cycle","E":1.175,"j":0.35},{"c":"50th cycle","E":1.16,"j":0.05},{"c":"50th cycle","E":1.14,"j":-0.1},{"c":"50th cycle","E":1.1,"j":-0.18},{"c":"50th cycle","E":1.05,"j":-0.25},{"c":"50th cycle","E":1.0,"j":-0.32},{"c":"50th cycle","E":0.95,"j":-0.42},{"c":"50th cycle","E":0.9,"j":-0.55},{"c":"50th cycle","E":0.86,"j":-0.75},{"c":"50th cycle","E":0.82,"j":-1.0},{"c":"50th cycle","E":0.79,"j":-1.3},{"c":"50th cycle","E":0.76,"j":-1.75},{"c":"50th cycle","E":0.73,"j":-2.3},{"c":"50th cycle","E":0.7,"j":-2.85},{"c":"50th cycle","E":0.68,"j":-3.25},{"c":"50th cycle","E":0.66,"j":-3.38},{"c":"50th cycle","E":0.64,"j":-3.3},{"c":"50th cycle","E":0.62,"j":-3.0},{"c":"50th cycle","E":0.6,"j":-2.65},{"c":"50th cycle","E":0.57,"j":-2.1},{"c":"50th cycle","E":0.54,"j":-1.5},{"c":"50th cycle","E":0.51,"j":-1.05},{"c":"50th cycle","E":0.48,"j":-0.72},{"c":"50th cycle","E":0.45,"j":-0.53},{"c":"50th cycle","E":0.42,"j":-0.45},{"c":"50th cycle","E":0.38,"j":-0.45},{"c":"50th cycle","E":0.34,"j":-0.5},{"c":"50th cycle","E":0.3,"j":-0.68},{"c":"50th cycle","E":0.27,"j":-1.0},{"c":"50th cycle","E":0.24,"j":-1.45},{"c":"50th cycle","E":0.21,"j":-1.95},{"c":"50th cycle","E":0.18,"j":-2.35},{"c":"50th cycle","E":0.16,"j":-2.45},{"c":"50th cycle","E":0.14,"j":-2.38},{"c":"50th cycle","E":0.12,"j":-2.22},{"c":"50th cycle","E":0.09,"j":-2.05},{"c":"50th cycle","E":0.07,"j":-1.98},{"c":"50th cycle","E":0.05,"j":-1.95}
]
},
"columns":2,
"bounds":"flush",
"spacing":{"row":75,"column":100},
"resolve":{"scale":{"x":"independent","y":"independent"},"legend":{"color":"independent"}},
"concat":[
{"width":409,"height":300,"data":{"name":"a"},
 "layer":[
  {"mark":{"type":"line","interpolate":"cardinal","strokeWidth":3.4,"clip":true},
   "encoding":{"x":{"field":"E","type":"quantitative","scale":{"domain":[0,1.253],"nice":false,"zero":false},"axis":{"values":[0,0.2,0.4,0.6,0.8,1.0,1.2],"format":".1f","tickSize":5,"title":"E (V vs. RHE)","labelPadding":5,"titlePadding":1}},
    "y":{"field":"j","type":"quantitative","scale":{"domain":[-5.5,7.5],"nice":false,"zero":false},"axis":{"values":[-4,-2,0,2,4,6],"labelExpr":"replace(datum.label,'−','-')","tickSize":6,"title":"j (mA cm⁻²)","labelPadding":2,"titlePadding":-10}},
    "color":{"field":"c","type":"nominal","scale":{"domain":["1st cycle","2nd cycle","50th cycle"],"range":["#000000","#f07ef0","#1e88e6"]},"legend":{"legendX":112,"legendY":1}},
    "order":{"value":null}}},
  {"mark":{"type":"line","interpolate":"cardinal","strokeWidth":1.3,"color":"white","opacity":0.6,"clip":true},
   "encoding":{"x":{"field":"E","type":"quantitative","axis":{"orient":"bottom","values":[0.1,0.3,0.5,0.7,0.9,1.1],"labels":false,"tickSize":3,"title":null}},
    "y":{"field":"j","type":"quantitative","axis":{"orient":"left","values":[-5,-3,-1,1,3,5,7],"labels":false,"tickSize":3,"title":null}},
    "detail":{"field":"c"},"order":{"value":null}}},
  {"data":{"values":[{}]},"mark":{"type":"text","align":"right","baseline":"alphabetic","fontSize":25.5,"font":"Liberation Sans","color":"#111"},
   "encoding":{"x":{"datum":1.136,"type":"quantitative","axis":null},"y":{"datum":-4.13,"type":"quantitative","axis":null},"text":{"value":"Pt/C"}}},
  {"data":{"values":[{}]},"mark":{"type":"text","align":"left","baseline":"alphabetic","fontSize":40,"fontWeight":"bold","font":"Liberation Sans","color":"black"},
   "encoding":{"x":{"datum":-0.234,"type":"quantitative","axis":null},"y":{"datum":6.28,"type":"quantitative","axis":null},"text":{"value":"a"}}}
 ],
 "resolve":{"axis":{"x":"independent","y":"independent"}}
},
{"width":405,"height":300,"data":{"name":"b"},
 "layer":[
  {"mark":{"type":"line","interpolate":"cardinal","strokeWidth":3.4,"clip":true},
   "encoding":{"x":{"field":"E","type":"quantitative","scale":{"domain":[0,1.241],"nice":false,"zero":false},"axis":{"values":[0,0.2,0.4,0.6,0.8,1.0,1.2],"format":".1f","tickSize":5,"title":"E (V vs. RHE)","labelPadding":5,"titlePadding":1}},
    "y":{"field":"j","type":"quantitative","scale":{"domain":[-3,4],"nice":false,"zero":false},"axis":{"values":[-3,-2,-1,0,1,2,3,4],"labelExpr":"replace(datum.label,'−','-')","tickSize":6,"title":"j (mA cm⁻²)","labelPadding":2,"titlePadding":-10}},
    "color":{"field":"c","type":"nominal","scale":{"domain":["1st cycle","2nd cycle","50th cycle"],"range":["#000000","#f07ef0","#1e88e6"]},"legend":{"legendX":100,"legendY":4}},
    "order":{"value":null}}},
  {"mark":{"type":"line","interpolate":"cardinal","strokeWidth":1.3,"color":"white","opacity":0.6,"clip":true},
   "encoding":{"x":{"field":"E","type":"quantitative","axis":{"orient":"bottom","values":[0.1,0.3,0.5,0.7,0.9,1.1],"labels":false,"tickSize":3,"title":null}},
    "y":{"field":"j","type":"quantitative","axis":{"orient":"left","values":[-2.5,-1.5,-0.5,0.5,1.5,2.5,3.5],"labels":false,"tickSize":3,"title":null}},
    "detail":{"field":"c"},"order":{"value":null}}},
  {"data":{"values":[{}]},"mark":{"type":"text","align":"right","baseline":"alphabetic","fontSize":25.5,"font":"Liberation Sans","color":"#111"},
   "encoding":{"x":{"datum":1.21,"type":"quantitative","axis":null},"y":{"datum":-2.25,"type":"quantitative","axis":null},"text":{"value":"Pd NPC"}}},
  {"data":{"values":[{}]},"mark":{"type":"text","align":"left","baseline":"alphabetic","fontSize":40,"fontWeight":"bold","font":"Liberation Sans","color":"black"},
   "encoding":{"x":{"datum":-0.229,"type":"quantitative","axis":null},"y":{"datum":3.35,"type":"quantitative","axis":null},"text":{"value":"b"}}}
 ],
 "resolve":{"axis":{"x":"independent","y":"independent"}}
},
{"width":409,"height":300,"data":{"name":"c"},
 "layer":[
  {"mark":{"type":"line","interpolate":"cardinal","strokeWidth":3.4,"clip":true},
   "encoding":{"x":{"field":"E","type":"quantitative","scale":{"domain":[0,1.253],"nice":false,"zero":false},"axis":{"values":[0,0.2,0.4,0.6,0.8,1.0,1.2],"format":".1f","tickSize":5,"title":"E (V vs. RHE)","labelPadding":5,"titlePadding":1}},
    "y":{"field":"j","type":"quantitative","scale":{"domain":[-4,5],"nice":false,"zero":false},"axis":{"values":[-4,-2,0,2,4],"labelExpr":"replace(datum.label,'−','-')","tickSize":6,"title":"j (mA cm⁻²)","labelPadding":2,"titlePadding":-10}},
    "color":{"field":"c","type":"nominal","scale":{"domain":["1st cycle","2nd cycle","50th cycle"],"range":["#000000","#f07ef0","#1e88e6"]},"legend":{"legendX":107,"legendY":6}},
    "order":{"value":null}}},
  {"mark":{"type":"line","interpolate":"cardinal","strokeWidth":1.3,"color":"white","opacity":0.6,"clip":true},
   "encoding":{"x":{"field":"E","type":"quantitative","axis":{"orient":"bottom","values":[0.1,0.3,0.5,0.7,0.9,1.1],"labels":false,"tickSize":3,"title":null}},
    "y":{"field":"j","type":"quantitative","axis":{"orient":"left","values":[-3,-1,1,3,5],"labels":false,"tickSize":3,"title":null}},
    "detail":{"field":"c"},"order":{"value":null}}},
  {"data":{"values":[{}]},"mark":{"type":"text","align":"right","baseline":"alphabetic","fontSize":25.5,"font":"Liberation Sans","color":"#111"},
   "encoding":{"x":{"datum":1.209,"type":"quantitative","axis":null},"y":{"datum":-3.05,"type":"quantitative","axis":null},"text":{"value":"PdAg NPs/CNT"}}},
  {"data":{"values":[{}]},"mark":{"type":"text","align":"left","baseline":"alphabetic","fontSize":40,"fontWeight":"bold","font":"Liberation Sans","color":"black"},
   "encoding":{"x":{"datum":-0.234,"type":"quantitative","axis":null},"y":{"datum":4.61,"type":"quantitative","axis":null},"text":{"value":"c"}}}
 ],
 "resolve":{"axis":{"x":"independent","y":"independent"}}
},
{"width":405,"height":300,"data":{"name":"d"},
 "layer":[
  {"mark":{"type":"line","interpolate":"cardinal","strokeWidth":3.4,"clip":true},
   "encoding":{"x":{"field":"E","type":"quantitative","scale":{"domain":[0,1.241],"nice":false,"zero":false},"axis":{"values":[0,0.2,0.4,0.6,0.8,1.0,1.2],"format":".1f","tickSize":5,"title":"E (V vs. RHE)","labelPadding":5,"titlePadding":1}},
    "y":{"field":"j","type":"quantitative","scale":{"domain":[-5,6],"nice":false,"zero":false},"axis":{"values":[-4,-2,0,2,4,6],"labelExpr":"replace(datum.label,'−','-')","tickSize":6,"title":"j (mA cm⁻²)","labelPadding":2,"titlePadding":-10}},
    "color":{"field":"c","type":"nominal","scale":{"domain":["1st cycle","2nd cycle","50th cycle"],"range":["#000000","#f07ef0","#1e88e6"]},"legend":{"legendX":105,"legendY":3}},
    "order":{"value":null}}},
  {"mark":{"type":"line","interpolate":"cardinal","strokeWidth":1.3,"color":"white","opacity":0.6,"clip":true},
   "encoding":{"x":{"field":"E","type":"quantitative","axis":{"orient":"bottom","values":[0.1,0.3,0.5,0.7,0.9,1.1],"labels":false,"tickSize":3,"title":null}},
    "y":{"field":"j","type":"quantitative","axis":{"orient":"left","values":[-5,-3,-1,1,3,5],"labels":false,"tickSize":3,"title":null}},
    "detail":{"field":"c"},"order":{"value":null}}},
  {"data":{"values":[{}]},"mark":{"type":"text","align":"right","baseline":"alphabetic","fontSize":25.5,"font":"Liberation Sans","color":"#111"},
   "encoding":{"x":{"datum":1.224,"type":"quantitative","axis":null},"y":{"datum":-4.16,"type":"quantitative","axis":null},"text":{"value":"Pd₁Ag₁ NWs"}}},
  {"data":{"values":[{}]},"mark":{"type":"text","align":"left","baseline":"alphabetic","fontSize":40,"fontWeight":"bold","font":"Liberation Sans","color":"black"},
   "encoding":{"x":{"datum":-0.195,"type":"quantitative","axis":null},"y":{"datum":5.34,"type":"quantitative","axis":null},"text":{"value":"d"}}}
 ],
 "resolve":{"axis":{"x":"independent","y":"independent"}}
}
]
}
